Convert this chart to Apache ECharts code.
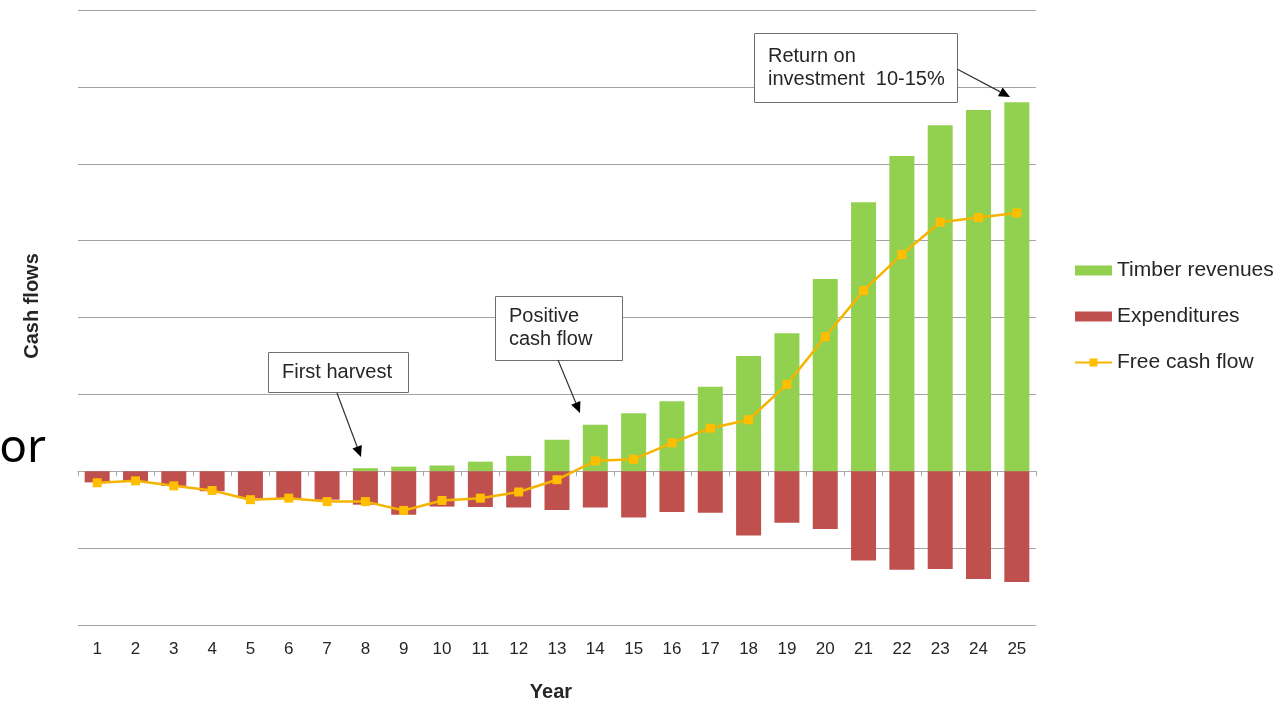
<!DOCTYPE html>
<html>
<head>
<meta charset="utf-8">
<script src="https://cdn.jsdelivr.net/npm/echarts@6/dist/echarts.min.js"></script>
<style>
  html, body { margin: 0; padding: 0; background: #ffffff; }
  #chart { width: 1288px; height: 702px; }
</style>
</head>
<body>
<div id="chart"></div>
<script>
// Years of the plantation cycle
const years = ['1','2','3','4','5','6','7','8','9','10','11','12','13','14','15','16','17','18','19','20','21','22','23','24','25'];

// Cash flows per year (relative units; gridline step = 100)
const timberRevenues = [0, 0, 0, 0, 0, 0, 0, 4, 6, 7.5, 12.5, 20, 41, 60.5, 75.5, 91, 110, 150, 179.5, 250, 350, 410, 450, 470, 480];
const expenditures = [-14.5, -13, -19, -26, -35, -35, -37, -43.5, -56.5, -46, -46.5, -47, -50.5, -47, -60, -53, -54, -83.5, -67, -75, -116, -128, -127, -140, -144];
const freeCashFlow = [-15, -12.5, -19, -25, -37, -35, -39.5, -39.5, -51, -38, -35, -27, -11, 13.5, 15.5, 37, 56, 67, 113, 175, 235, 282, 324, 330, 336];

const FONT = '"Liberation Sans", Arial, sans-serif';
const TEXT = '#262626';

const chart = echarts.init(document.getElementById('chart'), null, { renderer: 'canvas' });

// Callout box with a leader arrow
function callout(box, lines, from, tip) {
  const els = [];
  els.push({
    type: 'rect',
    shape: { x: box[0] + 0.5, y: box[1] + 0.5, width: box[2], height: box[3] },
    style: { fill: '#ffffff', stroke: '#6e6e6e', lineWidth: 1 },
    z: 10
  });
  els.push({
    type: 'text',
    x: box[0] + 14, y: box[1] + box[3] / 2,
    style: {
      text: lines.join('\n'), font: '20px ' + FONT, fill: TEXT,
      verticalAlign: 'middle', align: 'left', lineHeight: 23
    },
    z: 11
  });
  // arrow shaft
  const dx = tip[0] - from[0], dy = tip[1] - from[1];
  const len = Math.sqrt(dx * dx + dy * dy);
  const ux = dx / len, uy = dy / len;
  const headLen = 11, headHalf = 5;
  const bx = tip[0] - ux * headLen, by = tip[1] - uy * headLen;
  els.push({
    type: 'line',
    shape: { x1: from[0], y1: from[1], x2: bx, y2: by },
    style: { stroke: '#333333', lineWidth: 1.2 },
    z: 10
  });
  els.push({
    type: 'polygon',
    shape: { points: [[tip[0], tip[1]], [bx - uy * headHalf, by + ux * headHalf], [bx + uy * headHalf, by - ux * headHalf]] },
    style: { fill: '#000000' },
    z: 10
  });
  return els;
}

const option = {
  backgroundColor: '#ffffff',
  animation: false,
  grid: { left: 78, top: 10, width: 958, height: 615, containLabel: false, outerBoundsMode: 'none' },
  legend: {
    orient: 'vertical',
    left: 1069,
    top: 255,
    itemGap: 25,
    itemWidth: 37,
    itemHeight: 10,
    textStyle: { fontFamily: FONT, fontSize: 21, color: TEXT, padding: [0, 0, 0, 0] },
    data: [
      { name: 'Timber revenues', icon: 'rect' },
      { name: 'Expenditures', icon: 'rect' },
      { name: 'Free cash flow' }
    ]
  },
  xAxis: [
    {
      type: 'category',
      data: years,
      position: 'bottom',
      axisLine: { show: false, onZero: false },
      axisTick: { show: false },
      axisLabel: { fontFamily: FONT, fontSize: 17, color: TEXT, margin: 16 }
    },
    {
      // zero baseline with category ticks
      type: 'category',
      data: years,
      position: 'bottom',
      axisLine: { show: true, onZero: true, lineStyle: { color: '#a8a8a8', width: 1 } },
      axisTick: { show: true, length: 5, lineStyle: { color: '#a8a8a8' } },
      axisLabel: { show: false },
      splitLine: { show: false }
    }
  ],
  yAxis: {
    type: 'value',
    min: -200,
    max: 600,
    interval: 100,
    axisLine: { show: false },
    axisTick: { show: false },
    axisLabel: { show: false },
    splitLine: { lineStyle: { color: '#a3a3a3', width: 1 } }
  },
  series: [
    {
      name: 'Timber revenues',
      type: 'bar',
      stack: 'cf',
      barWidth: 25,
      itemStyle: { color: '#92d050' },
      data: timberRevenues
    },
    {
      name: 'Expenditures',
      type: 'bar',
      stack: 'cf',
      barWidth: 25,
      itemStyle: { color: '#c0504d' },
      data: expenditures
    },
    {
      name: 'Free cash flow',
      type: 'line',
      symbol: 'rect',
      symbolSize: 9,
      showSymbol: true,
      itemStyle: { color: '#ffbf00' },
      lineStyle: { color: '#f5b400', width: 2.5 },
      z: 5,
      data: freeCashFlow
    }
  ],
  graphic: [
    {
      type: 'text',
      x: 32, y: 306,
      rotation: Math.PI / 2,
      style: {
        text: 'Cash flows', font: 'bold 20px ' + FONT, fill: TEXT,
        align: 'center', verticalAlign: 'middle'
      }
    },
    {
      type: 'text',
      x: 551, y: 692,
      style: {
        text: 'Year', font: 'bold 20px ' + FONT, fill: TEXT,
        align: 'center', verticalAlign: 'middle'
      }
    },
    {
      type: 'text',
      x: 46, y: 449,
      style: {
        text: 'or', font: '46px "Noto Sans", sans-serif', fill: '#000000',
        align: 'right', verticalAlign: 'middle'
      }
    }
  ]
    .concat(callout([268, 352, 140, 40], ['First harvest'], [337, 393], [361, 457]))
    .concat(callout([495, 296, 127, 64], ['Positive', 'cash flow'], [558, 360], [580, 413]))
    .concat(callout([754, 33, 203, 69], ['Return on', 'investment  10-15%'], [957, 69], [1010, 97]))
};

chart.setOption(option);
</script>
</body>
</html>
